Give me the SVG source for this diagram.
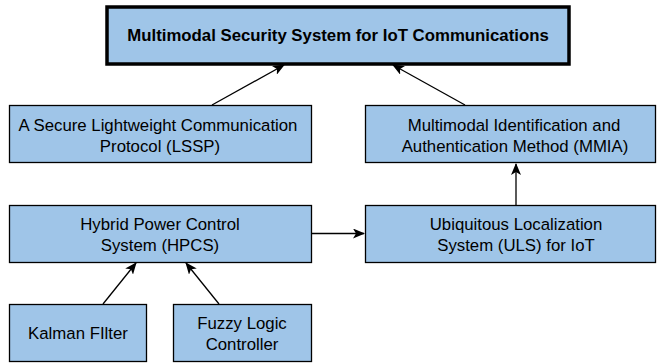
<svg xmlns="http://www.w3.org/2000/svg" width="657" height="364" viewBox="0 0 657 364">
  <style>
    .box { fill: #9fc5e8; stroke: #000; stroke-width: 1.3; }
    .main { fill: #9fc5e8; stroke: #000; stroke-width: 3.5; }
    .lbl { font-family: "Liberation Sans", Arial, sans-serif; font-size: 16.8px; fill: #000; text-anchor: middle; }
    .title { font-family: "Liberation Sans", Arial, sans-serif; font-size: 16.8px; font-weight: bold; fill: #000; text-anchor: middle; }
    .edge { stroke: #000; stroke-width: 1.3; fill: none; marker-end: url(#arrow); }
  </style>
  <defs>
    <marker id="arrow" viewBox="0 0 12 10" refX="11" refY="5" markerWidth="12" markerHeight="10" markerUnits="userSpaceOnUse" orient="auto">
      <path d="M0,0 L12,5 L0,10 L3,5 Z" fill="#000"/>
    </marker>
  </defs>

  <rect width="657" height="364" fill="#fff"/>

  <g id="connectors">
    <line class="edge" x1="212" y1="105" x2="284" y2="65"/>
    <line class="edge" x1="465" y1="105" x2="393" y2="65"/>
    <line class="edge" x1="311" y1="233.5" x2="364" y2="233.5"/>
    <line class="edge" x1="516" y1="205" x2="516" y2="164"/>
    <line class="edge" x1="103" y1="304" x2="136" y2="263"/>
    <line class="edge" x1="219" y1="304" x2="186" y2="263"/>
  </g>

  <g id="node-main">
    <rect class="main" x="107" y="7" width="462" height="57"/>
    <text class="title" x="338" y="41">Multimodal Security System for IoT Communications</text>
  </g>

  <g id="node-lssp">
    <rect class="box" x="9.5" y="105.5" width="302" height="57"/>
    <text class="lbl" x="158" y="131">A Secure Lightweight Communication</text>
    <text class="lbl" x="160" y="152">Protocol (LSSP)</text>
  </g>

  <g id="node-mmia">
    <rect class="box" x="365.5" y="105.5" width="290" height="57"/>
    <text class="lbl" x="514" y="131">Multimodal Identification and</text>
    <text class="lbl" x="515" y="152">Authentication Method (MMIA)</text>
  </g>

  <g id="node-hpcs">
    <rect class="box" x="9.5" y="205.5" width="302" height="57"/>
    <text class="lbl" x="160" y="230">Hybrid Power Control</text>
    <text class="lbl" x="160" y="251">System (HPCS)</text>
  </g>

  <g id="node-uls">
    <rect class="box" x="365.5" y="205.5" width="290" height="57"/>
    <text class="lbl" x="516" y="230">Ubiquitous Localization</text>
    <text class="lbl" x="516" y="251">System (ULS) for IoT</text>
  </g>

  <g id="node-kalman">
    <rect class="box" x="9.5" y="304.5" width="137" height="57"/>
    <text class="lbl" x="78" y="339">Kalman FIlter</text>
  </g>

  <g id="node-fuzzy">
    <rect class="box" x="173.5" y="304.5" width="138" height="57"/>
    <text class="lbl" x="242" y="329">Fuzzy Logic</text>
    <text class="lbl" x="242" y="350">Controller</text>
  </g>
</svg>
